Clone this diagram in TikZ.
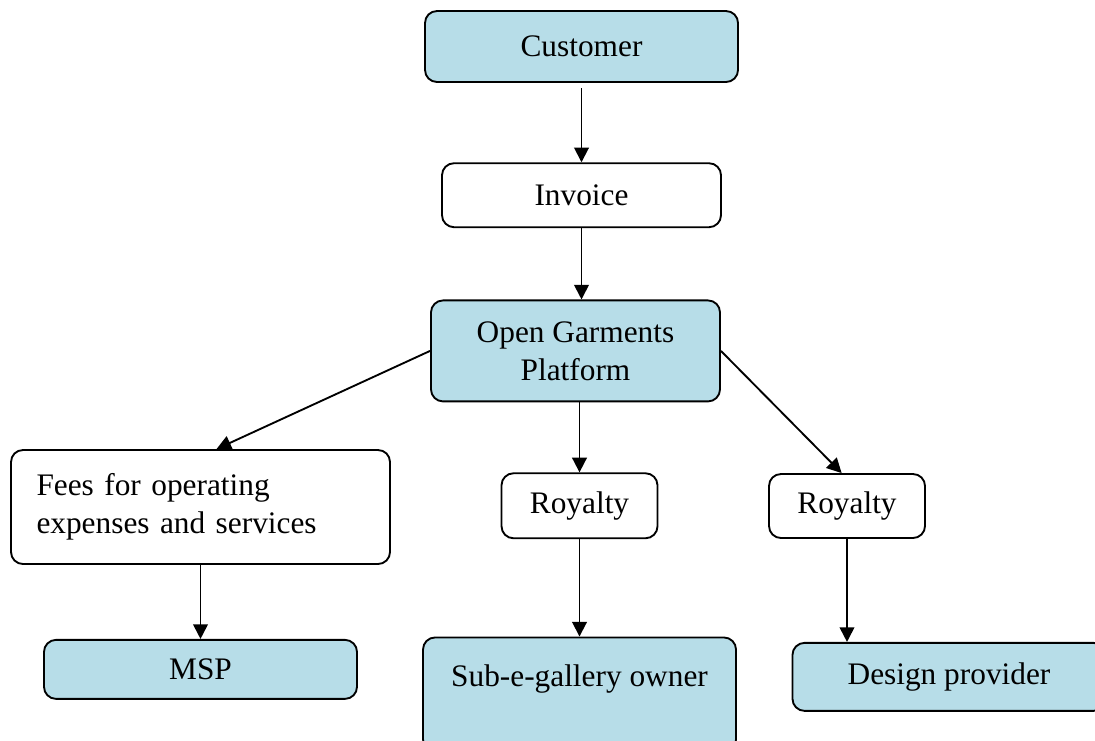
\documentclass[tikz,border=0pt]{standalone}
\usepackage{fontspec}
\setmainfont{Liberation Serif}
\usetikzlibrary{positioning,arrows.meta}
\definecolor{boxblue}{HTML}{B7DDE8}

\tikzset{
    party/.style={draw, line width=1.4pt, rounded corners=9pt, fill=boxblue, align=center},
    money/.style={draw, line width=1.4pt, rounded corners=9pt, fill=white, align=center},
    flow/.style={line width=1.4pt, -{Triangle[width=11pt,length=11pt]}}
}

\begin{document}
\begin{tikzpicture}[x=0.75pt, y=-0.75pt, font=\fontsize{23.5}{28.5}\selectfont]
    \clip (0,0) rectangle (1095,740);
    \node [party, minimum width=234.75pt, minimum height=53.25pt] (customer) at (581.5,46.5) {Customer};
    \node [money, minimum width=209.25pt, minimum height=48pt, below = 59.5pt of customer] (invoice) {Invoice};
    \node [party, minimum width=216.75pt, minimum height=75.75pt, below = 53.5pt of invoice, xshift=-4.5pt] (ogp) {Open Garments\\Platform};
    \node [money, minimum width=117pt, minimum height=48.75pt, below = 52.5pt of ogp, xshift=3pt] (roy1) {Royalty};
    \node [party, minimum width=234.75pt, minimum height=85.5pt, below = 73pt of roy1] (sub) {Sub-e-gallery owner\\\mbox{}};
    \node [money, minimum width=284.25pt, minimum height=85.5pt, text width=246pt, align=left] (fees) at (200.5,507) {Fees for operating\\expenses and services};
    \node [party, minimum width=234.75pt, minimum height=44.25pt, below = 55.5pt of fees] (msp) {MSP};
    \node [money, minimum width=117pt, minimum height=48pt] (roy2) at (847,506) {Royalty\strut};
    \node [party, minimum width=234.75pt, minimum height=51pt, below = 77.25pt of roy2, xshift=76.5pt] (design) {Design provider};

    \draw [flow, shorten <=4pt] (customer.south) -- (invoice.north);
    \draw [flow] (invoice.south) -- (invoice.south |- ogp.north);
    \draw [flow] (roy1.north |- ogp.south) -- (roy1.north);
    \draw [flow] (ogp.west) -- ([xshift=12pt]fees.north);
    \draw [flow] (ogp.east) -- ([xshift=-4pt]roy2.north);
    \draw [flow] (roy1.south) -- (roy1.south |- sub.north);
    \draw [flow] (fees.south) -- (msp.north);
    \draw [flow] (roy2.south) -- (roy2.south |- design.north);
\end{tikzpicture}
\end{document}
